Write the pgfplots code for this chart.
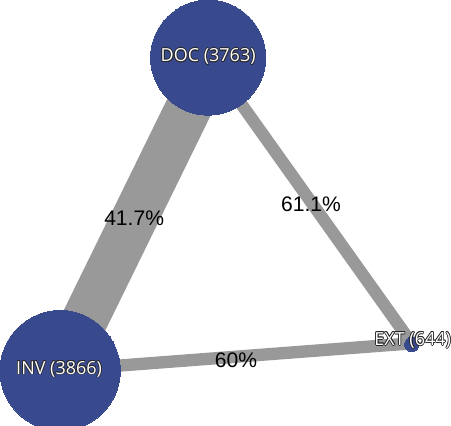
\documentclass[border=0pt]{standalone}
\usepackage{pgfplots}
\pgfplotsset{compat=1.18}
\usepackage{fontspec}
\setmainfont{Liberation Sans}
\newfontfamily\nodefont{Open Sans}
\newfontfamily\edgefont{Liberation Sans}
\definecolor{nodeblue}{RGB}{57,73,141}
\definecolor{edgegray}{RGB}{153,153,153}
\newcommand\outlpiece[3]{\rlap{\hspace{#1}\raisebox{#2}{\color{black!85}#3}}}
\newcommand\outl[1]{%
  \outlpiece{0.8pt}{0pt}{#1}\outlpiece{-0.8pt}{0pt}{#1}%
  \outlpiece{0pt}{0.8pt}{#1}\outlpiece{0pt}{-0.8pt}{#1}%
  \outlpiece{0.55pt}{0.55pt}{#1}\outlpiece{-0.55pt}{0.55pt}{#1}%
  \outlpiece{0.55pt}{-0.55pt}{#1}\outlpiece{-0.55pt}{-0.55pt}{#1}%
  {\color{white}#1}}
\begin{document}
\begin{tikzpicture}
\begin{axis}[
  x=1pt, y=1pt, y dir=reverse,
  xmin=0, xmax=451, ymin=0, ymax=427,
  hide axis, clip marker paths=true,
  point meta=explicit symbolic,
  every node near coord/.append style={anchor=center, inner sep=0pt, yshift=0pt},
]
% edges
\addplot[edgegray, line width=45pt, no marks] coordinates {(217,69) (68,373)};
\addplot[edgegray, line width=12pt, no marks] coordinates {(212,69) (410,347)};
\addplot[edgegray, line width=12pt, no marks] coordinates {(68,373) (410,347)};
% nodes
\addplot[nodeblue, only marks, mark=*, mark size=56pt, mark options={fill=nodeblue, draw=nodeblue, line width=0pt}] coordinates {(212,69)};
\addplot[nodeblue, only marks, mark=*, mark size=58.5pt, mark options={fill=nodeblue, draw=nodeblue, line width=0pt}] coordinates {(68,373.5)};
\addplot[nodeblue, only marks, mark=*, mark size=7pt, mark options={fill=nodeblue, draw=nodeblue, line width=0pt}] coordinates {(410,348)};
% edge labels
\addplot[draw=none, no marks, nodes near coords={\edgefont\fontsize{20.5}{24}\selectfont\pgfplotspointmeta}]
  coordinates {(140,225) [41.7\%] (312,212) [61.1\%] (239,363) [60\%]};
% node labels
\addplot[draw=none, no marks, nodes near coords={\nodefont\fontsize{17.5}{21}\selectfont\outl{\pgfplotspointmeta}}]
  coordinates {(212,68) [DOC (3763)] (67,372) [INV (3866)] (411,344) [EXT (644)]};
\end{axis}
\end{tikzpicture}
\end{document}
